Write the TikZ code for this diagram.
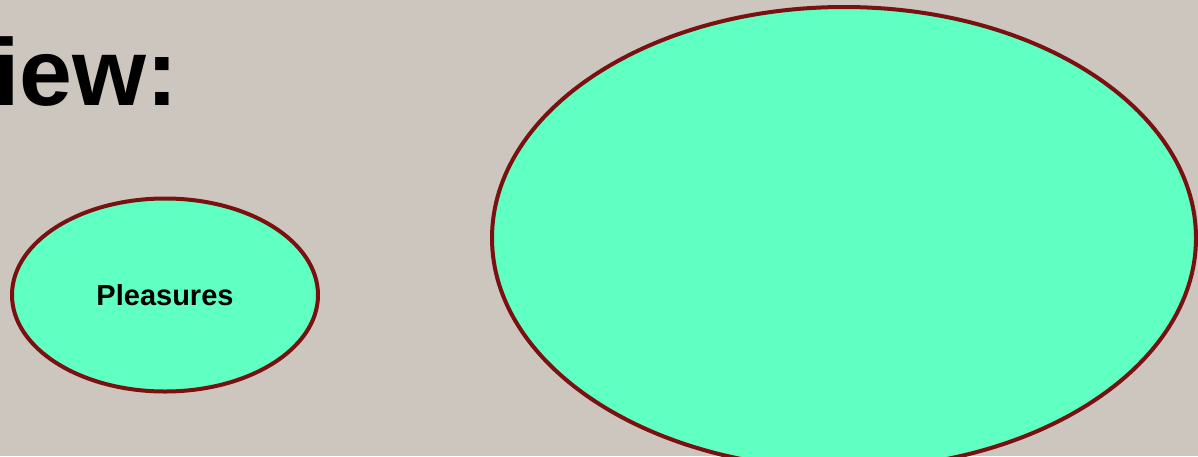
\documentclass[tikz,border=0pt]{standalone}
\usepackage{fontspec}
\setmainfont{Liberation Sans}
\usetikzlibrary{shapes.geometric}
\definecolor{bg}{HTML}{CDC6BF}
\definecolor{bubble}{HTML}{60FFC2}
\definecolor{rim}{HTML}{7A1010}
\tikzset{
  bubblenode/.style={ellipse, draw=rim, line width=4pt, fill=bubble, inner sep=0pt},
}
\begin{document}
\begin{tikzpicture}[x=1pt,y=-1pt]
\useasboundingbox (0,0) rectangle (1198,456);
\clip (0,0) rectangle (1198,456);
\fill[bg] (0,0) rectangle (1198,456);
\node[anchor=base east, font=\bfseries\fontsize{95}{104}\selectfont, inner sep=0pt] (title) at (178,105) {iew:};
\node[bubblenode, minimum width=306pt, minimum height=193pt, font=\bfseries\fontsize{29}{32}\selectfont] (pleasures) at (165,295) {Pleasures};
\node[bubblenode, minimum width=704pt, minimum height=462pt] (big) at (844,238) {};
\end{tikzpicture}
\end{document}
